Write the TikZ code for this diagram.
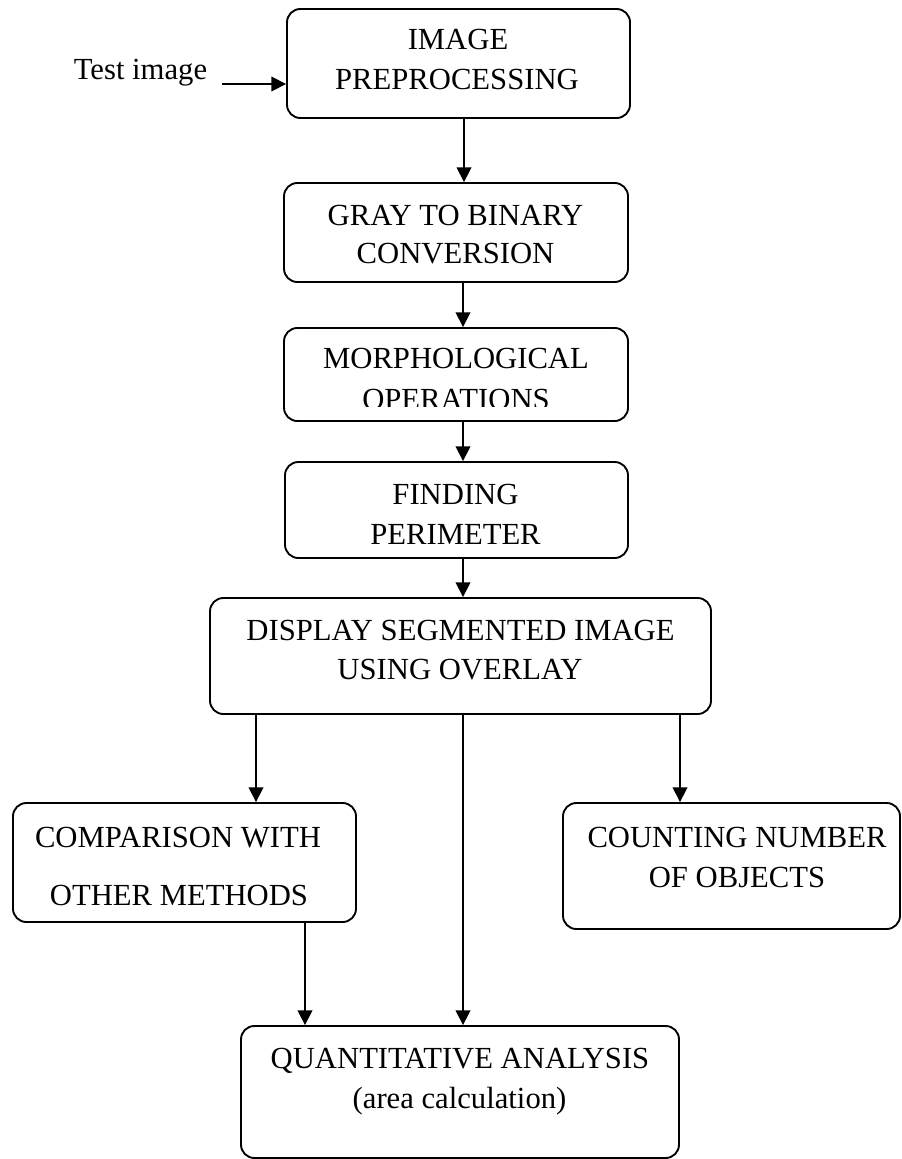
\documentclass[tikz,border=0pt]{standalone}
\usepackage{fontspec}
\setmainfont{Liberation Serif}
\usetikzlibrary{arrows.meta}

\begin{document}
\begin{tikzpicture}[x=0.75pt,y=-0.75pt,
  stepbox/.style={draw, line width=1.4pt, rounded corners=10pt, inner sep=0pt},
  lbl/.style={anchor=base, inner sep=0pt, font=\fontsize{23pt}{27pt}\selectfont},
  arr/.style={-{Triangle[length=11pt,width=11pt]}, line width=1.2pt},
  wire/.style={line width=1.2pt}]
\useasboundingbox (0,0) rectangle (901,1159);

% process boxes
\node[stepbox, minimum width=257.25pt, minimum height=81.75pt] (b1) at (458.5,63.5) {};
\node[stepbox, minimum width=258pt,    minimum height=74.25pt] (b2) at (456,232.5) {};
\node[stepbox, minimum width=258pt,    minimum height=69.75pt] (b3) at (456,374.5) {};
\node[stepbox, minimum width=257.25pt, minimum height=72pt]    (b4) at (456.5,510) {};
\node[stepbox, minimum width=375.75pt, minimum height=87pt]    (b5) at (460.5,656) {};
\node[stepbox, minimum width=257.25pt, minimum height=89.25pt] (b6) at (184.5,862.5) {};
\node[stepbox, minimum width=252.75pt, minimum height=94.5pt]  (b7) at (731.5,866) {};
\node[stepbox, minimum width=328.5pt,  minimum height=99pt]    (b8) at (460,1092) {};

% box texts
\node[lbl] (t1a) at (458,50) {IMAGE};
\node[lbl] (t1b) at (457,90) {PREPROCESSING};
\node[lbl] (t2a) at (455.5,225) {GRAY TO BINARY};
\node[lbl] (t2b) at (455.5,263) {CONVERSION};
\node[lbl] (t3a) at (456,368) {MORPHOLOGICAL};
\begin{scope}
  \clip (284,330) rectangle (628,406);
  \node[lbl] (t3b) at (456,409) {OPERATIONS};
\end{scope}
\node[lbl] (t4a) at (455.5,504) {FINDING};
\node[lbl] (t4b) at (455.5,544) {PERIMETER};
\node[lbl] (t5a) at (460.5,640) {DISPLAY SEGMENTED IMAGE};
\node[lbl] (t5b) at (460,679) {USING OVERLAY};
\node[lbl] (t6a) at (178,847) {COMPARISON WITH};
\node[lbl] (t6b) at (179,905) {OTHER METHODS};
\node[lbl] (t7a) at (737,847) {COUNTING NUMBER};
\node[lbl] (t7b) at (737,887) {OF OBJECTS};
\node[lbl] (t8a) at (460,1068) {QUANTITATIVE ANALYSIS};
\node[lbl] (t8b) at (459.5,1108) {(area calculation)};

% input
\node[lbl] (tin) at (140.5,80) {Test image};
\coordinate (tinx) at (222,84);
\draw[arr] (tinx) -- (tinx -| b1.west);

% connectors
\draw[arr] (464,0 |- b1.south) -- (464,0 |- b2.north);
\draw[arr] (463,0 |- b2.south) -- (463,0 |- b3.north);
\draw[arr] (463,0 |- b3.south) -- (463,0 |- b4.north);
\draw[arr] (463,0 |- b4.south) -- (463,0 |- b5.north);
\draw[arr] (256,0 |- b5.south) -- (256,0 |- b6.north);
\draw[arr] (680,0 |- b5.south) -- (680,0 |- b7.north);
\draw[arr] (463,0 |- b5.south) -- (463,0 |- b8.north);
\draw[arr] (305,0 |- b6.south) -- (305,0 |- b8.north);
\end{tikzpicture}
\end{document}
